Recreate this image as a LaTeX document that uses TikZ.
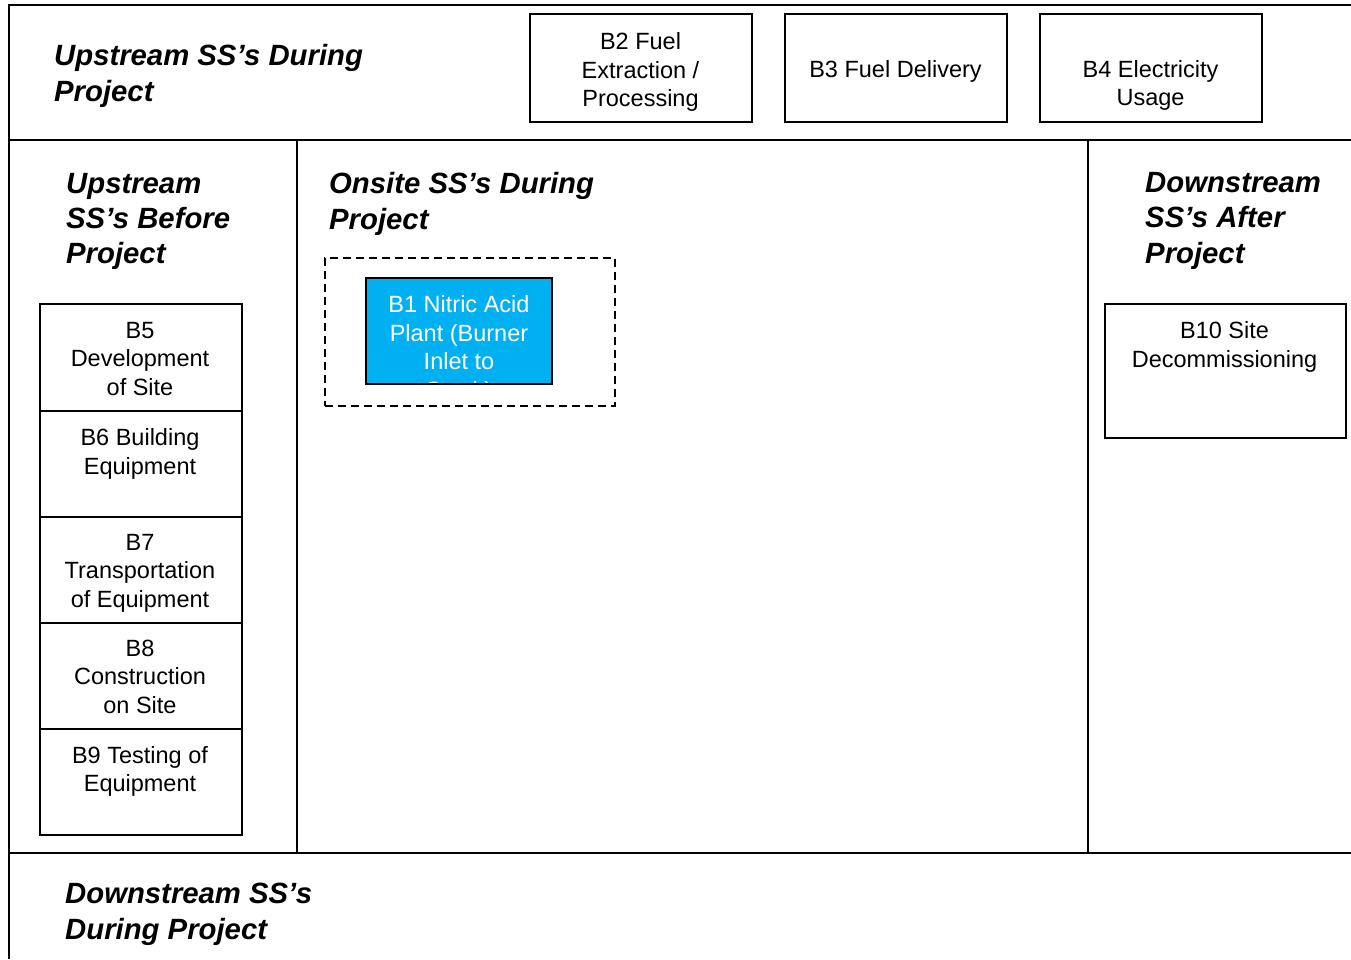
\documentclass[tikz,border=0pt]{standalone}
\usepackage{fontspec}
\setmainfont{Liberation Sans}
\definecolor{plantblue}{HTML}{00B0F0}
\begin{document}
\begin{tikzpicture}[x=1pt,y=-1pt,
  frame/.style={line width=2pt},
  box/.style={draw, line width=2pt, inner sep=0pt, anchor=north west},
  boxtext/.style={font=\fontsize{23.5}{28.5}\selectfont, align=center, anchor=north, inner sep=0pt},
  heading/.style={font=\fontsize{29.3}{35.3}\selectfont\bfseries\itshape, align=left, anchor=north west, inner sep=0pt},
  boundary/.style={draw, line width=2pt, dash pattern=on 8pt off 5pt}]
\useasboundingbox (0,0) rectangle (1351,959);

% outer frame and section dividers
\draw[frame] (1351,5) -- (9,5) -- (9,959);
\draw[frame] (9,140) -- (1351,140);
\draw[frame] (9,853) -- (1351,853);
\draw[frame] (297,140) -- (297,853);
\draw[frame] (1088,140) -- (1088,853);

% section headings
\node[heading] (hupdur) at (54,44.5) {Upstream SS’s During\\Project};
\node[heading] (hupbef) at (66,172.8) {Upstream\\SS’s Before\\Project};
\node[heading] (honsite) at (329,172.5) {Onsite SS’s During\\Project};
\node[heading] (hdownaft) at (1145,172.3) {Downstream\\SS’s After\\Project};
\node[heading] (hdowndur) at (65,883.2) {Downstream SS’s\\During Project};

% upstream during project
\node[box, minimum width=222pt, minimum height=108pt] (b2) at (529,13) {};
\node[box, minimum width=222pt, minimum height=108pt] (b3) at (784,13) {};
\node[box, minimum width=222pt, minimum height=108pt] (b4) at (1039,13) {};
\node[boxtext] (b2t) at (640.5,32.4) {B2 Fuel\\Extraction /\\Processing};
\node[boxtext] (b3t) at (895.5,60.2) {B3 Fuel Delivery};
\node[boxtext] (b4t) at (1150.5,60.2) {B4 Electricity\\Usage};

% upstream before project
\node[box, minimum width=202pt, minimum height=107pt] (b5) at (39,303) {};
\node[box, minimum width=202pt, minimum height=106pt] (b6) at (39,410) {};
\node[box, minimum width=202pt, minimum height=106pt] (b7) at (39,516) {};
\node[box, minimum width=202pt, minimum height=106pt] (b8) at (39,622) {};
\node[box, minimum width=202pt, minimum height=106pt] (b9) at (39,728) {};
\node[boxtext] (b5t) at (140,322) {B5\\Development\\of Site};
\node[boxtext] (b6t) at (140,428.5) {B6 Building\\Equipment};
\node[boxtext] (b7t) at (140,533.8) {B7\\Transportation\\of Equipment};
\node[boxtext] (b8t) at (140,639.8) {B8\\Construction\\on Site};
\node[boxtext] (b9t) at (140,746.2) {B9 Testing of\\Equipment};

% downstream after project
\node[box, minimum width=241pt, minimum height=134pt] (b10) at (1104,303) {};
\node[boxtext] (b10t) at (1224.5,321.5) {B10 Site\\Decommissioning};

% onsite project boundary
\node[boundary, inner sep=0pt, anchor=north west, minimum width=290pt, minimum height=148pt] (site) at (324,257) {};
% plant box: fill first, text clipped to the box, border on top
\node[fill=plantblue, inner sep=0pt, outer sep=0pt, anchor=north west, minimum width=186pt, minimum height=106pt] (b1) at (366,278) {};
\begin{scope}
  \clip (b1.north west) rectangle (b1.south east);
  \node[boxtext, text=white] (b1t) at (459,295.6) {B1 Nitric Acid\\Plant (Burner\\Inlet to\\Stack)};
\end{scope}
\draw[line width=2pt] (b1.north west) rectangle (b1.south east);
\end{tikzpicture}
\end{document}
